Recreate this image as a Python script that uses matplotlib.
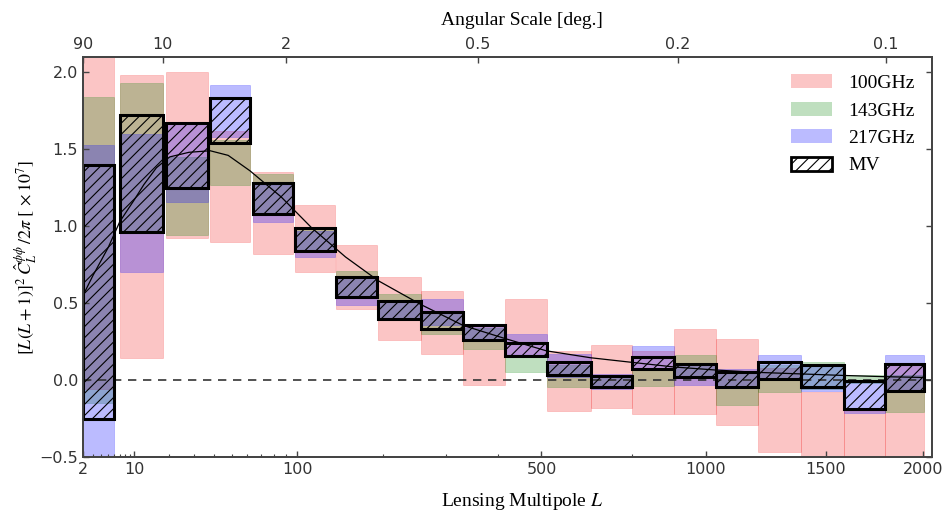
import numpy as np
import matplotlib
matplotlib.use('Agg')
import matplotlib.pyplot as plt
from matplotlib.patches import Patch
from matplotlib.ticker import FixedLocator, NullLocator

plt.rcParams['mathtext.fontset'] = 'stix'
plt.rcParams['font.family'] = 'DejaVu Sans'
plt.rcParams['hatch.linewidth'] = 0.8

# -----------------------------
# Data
# -----------------------------
bin_lo = [2, 7, 19, 38, 64, 98, 140, 192, 257, 330, 416, 513, 628, 750, 887, 1038, 1202, 1386, 1586, 1793]
bin_hi = [6, 18, 37, 62, 96, 139, 191, 256, 330, 416, 513, 628, 750, 887, 1038, 1202, 1386, 1586, 1793, 2004]

pink_lo = [-0.06, 0.145, 0.92, 0.90, 0.82, 0.70, 0.46, 0.26, 0.17, -0.03, 0.16, -0.20, -0.18, -0.22, -0.22, -0.29, -0.47, -0.55, -0.55, -0.55]
pink_hi = [2.30, 1.98, 2.00, 1.62, 1.35, 1.14, 0.875, 0.67, 0.58, 0.36, 0.53, 0.19, 0.226, 0.19, 0.33, 0.27, 0.08, -0.08, -0.20, 0.10]

green_lo = [-0.15, 0.97, 0.94, 1.27, 1.07, 0.84, 0.54, 0.40, 0.30, 0.20, 0.055, -0.045, -0.05, -0.04, 0.02, -0.16, -0.08, -0.06, -0.02, -0.21]
green_hi = [1.84, 1.93, 1.45, 1.56, 1.34, 0.99, 0.71, 0.56, 0.44, 0.34, 0.16, 0.10, 0.03, 0.08, 0.165, 0.05, 0.10, 0.115, 0.035, 0.03]

blue_lo = [-0.55, 0.70, 1.16, 1.58, 1.03, 0.80, 0.49, 0.40, 0.36, 0.26, 0.17, 0.02, -0.06, 0.07, -0.03, -0.05, 0.0, -0.07, -0.215, -0.07]
blue_hi = [1.53, 1.60, 1.67, 1.92, 1.27, 0.97, 0.66, 0.52, 0.53, 0.35, 0.30, 0.17, 0.04, 0.22, 0.10, 0.07, 0.165, 0.10, 0.0, 0.16]

mv_lo = [-0.25, 0.96, 1.25, 1.54, 1.08, 0.84, 0.54, 0.40, 0.33, 0.26, 0.157, 0.03, -0.048, 0.07, 0.02, -0.045, 0.01, -0.048, -0.19, -0.07]
mv_hi = [1.40, 1.72, 1.67, 1.83, 1.28, 0.99, 0.67, 0.515, 0.445, 0.357, 0.243, 0.12, 0.028, 0.15, 0.105, 0.05, 0.12, 0.095, -0.005, 0.105]

theory_L = [2, 3, 5, 7, 10, 12.4, 16, 20.4, 28, 38, 48, 62, 86, 114, 151, 193, 257, 331, 416, 512, 628, 750, 887, 1038, 1202, 1386, 1586, 1793, 2004]
theory_val = [0.55, 0.68, 0.86, 1.03, 1.17, 1.27, 1.38, 1.45, 1.48, 1.49, 1.46, 1.36, 1.19, 0.99, 0.80, 0.645, 0.49, 0.355, 0.27, 0.19, 0.145, 0.115, 0.085, 0.065, 0.05, 0.04, 0.03, 0.022, 0.017]

x_ticks = [2, 10, 100, 500, 1000, 1500, 2000]
x_minor = [3, 4, 5, 6, 7, 8, 9, 20, 30, 40, 50, 60, 70, 80, 90, 200, 300, 400, 750]
deg_ticks = [90, 10, 2, 0.5, 0.2, 0.1]
deg_labels = ['90', '10', '2', '0.5', '0.2', '0.1']
y_ticks = [-0.5, 0.0, 0.5, 1.0, 1.5, 2.0]

PINK = (0.95, 0.1, 0.1, 0.25)
GREEN = (0.0, 0.5, 0.0, 0.25)
BLUE = (0.05, 0.05, 1.0, 0.28)
SERIF = 'Liberation Serif'
SPINE = '#444444'


def fwd(L):
    return np.power(np.clip(L, 1e-9, None), 0.4)


def inv(u):
    return np.power(np.clip(u, 0, None), 2.5)


def band(ax, lo, hi, color):
    lo = np.array(lo)
    hi = np.array(hi)
    left = np.array(bin_lo)
    width = np.array(bin_hi) - left
    ax.bar(left, hi - lo, bottom=lo, width=width, align='edge',
           color=color, edgecolor=color, linewidth=0.5)


fig = plt.figure(figsize=(9.48, 5.17), dpi=100)
ax = fig.add_axes([0.0876, 0.116, 0.8956, 0.774])
ax.set_xscale('function', functions=(fwd, inv))

band(ax, pink_lo, pink_hi, PINK)
band(ax, green_lo, green_hi, GREEN)
band(ax, blue_lo, blue_hi, BLUE)

ax.axhline(0, color='#333333', linestyle='--', dashes=(5, 4), linewidth=1.2, zorder=3)
ax.plot(theory_L, theory_val, color='black', linewidth=0.9, zorder=4)

mv_lo_a = np.array(mv_lo)
mv_hi_a = np.array(mv_hi)
ax.bar(bin_lo, mv_hi_a - mv_lo_a, bottom=mv_lo_a,
       width=np.array(bin_hi) - np.array(bin_lo), align='edge',
       fill=False, edgecolor='black', hatch='///', linewidth=2.2, zorder=5)

ax.set_xlim(2, 2050)
ax.set_ylim(-0.5, 2.1)

ax.xaxis.set_major_locator(FixedLocator(x_ticks))
ax.set_xticklabels([str(t) for t in x_ticks])
ax.xaxis.set_minor_locator(FixedLocator(x_minor))
ax.set_yticks(y_ticks)
ax.set_yticklabels(['\u22120.5', '0.0', '0.5', '1.0', '1.5', '2.0'])
ax.yaxis.set_minor_locator(NullLocator())
ax.tick_params(which='both', direction='in', right=True, top=False,
               labelsize=11.5, labelcolor='#333333', color=SPINE)
ax.tick_params(which='major', length=4, width=1)
ax.tick_params(which='minor', length=2.5, width=0.8)
for s in ax.spines.values():
    s.set_color(SPINE)
    s.set_linewidth(1.3)

ax.set_xlabel('Lensing Multipole $L$', family=SERIF, fontsize=14)
ax.xaxis.set_label_coords(0.517, -0.085)
ax.set_ylabel(r'$[L(L+1)]^2\,\hat{C}_L^{\phi\phi}\,/2\pi\ [\,\times 10^7]$', fontsize=13)
ax.yaxis.set_label_coords(-0.052, 0.5)

# top axis: angular scale
ax2 = ax.twiny()
ax2.set_xscale('function', functions=(fwd, inv))
ax2.set_xlim(ax.get_xlim())
ax2.set_xticks([180.0 / d for d in deg_ticks])
ax2.set_xticklabels(deg_labels)
ax2.xaxis.set_minor_locator(NullLocator())
ax2.tick_params(direction='in', length=4, width=1, labelsize=11.5,
                labelcolor='#333333', color=SPINE)
for s in ax2.spines.values():
    s.set_color(SPINE)
    s.set_linewidth(1.3)
ax2.set_xlabel('Angular Scale [deg.]', family=SERIF, fontsize=14)
ax2.xaxis.set_label_coords(0.517, 1.08)

handles = [Patch(facecolor=PINK, edgecolor='none', label='100GHz'),
           Patch(facecolor=GREEN, edgecolor='none', label='143GHz'),
           Patch(facecolor=BLUE, edgecolor='none', label='217GHz'),
           Patch(facecolor='none', edgecolor='black', hatch='///', linewidth=2, label='MV')]
ax.legend(handles=handles, loc='upper right', frameon=False,
          prop={'family': SERIF, 'size': 14}, handlelength=2.1,
          handleheight=0.72, handletextpad=0.85)

fig.savefig('out.png', dpi=100)
